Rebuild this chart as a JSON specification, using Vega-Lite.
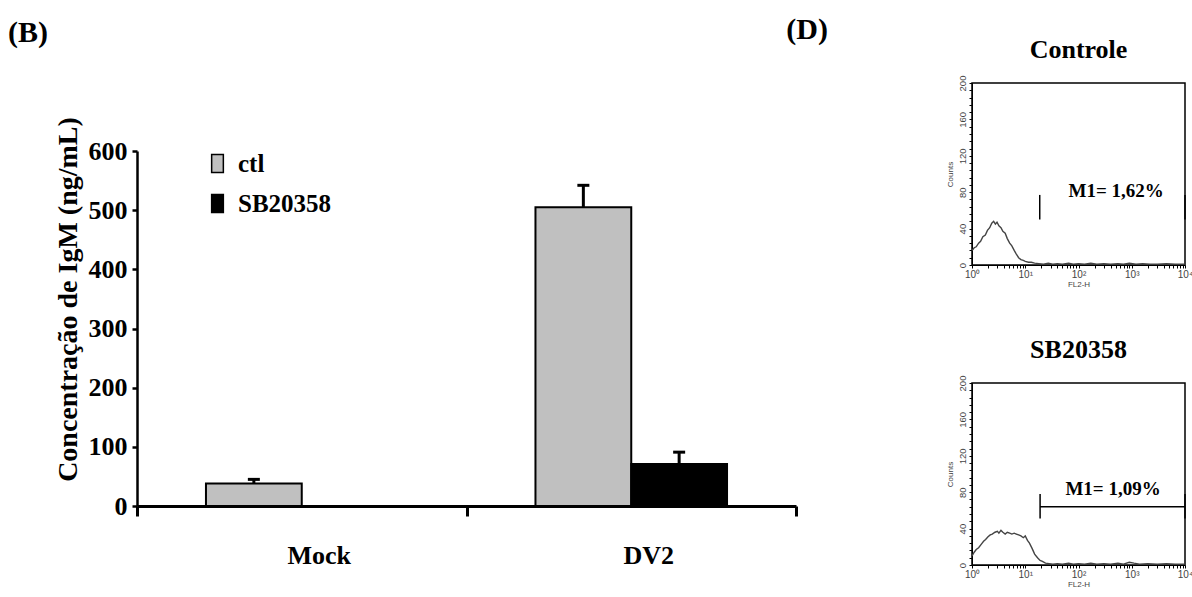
{
  "$schema": "https://vega.github.io/schema/vega-lite/v6.json",
  "padding": {"left": 8, "top": 15, "right": 0, "bottom": 0},
  "background": "white",
  "config": {"font": "Liberation Serif", "view": {"stroke": null}},
  "spacing": -12,
  "hconcat": [
    {
      "width": 659,
      "height": 423,
      "title": {"text": "(B)", "anchor": "start", "frame": "group", "dx": -129, "offset": 35, "fontSize": 30, "font": "Liberation Serif", "fontWeight": "bold", "color": "black"},
      "data": {"values": [
        {"grupo": "Mock", "tratamento": "ctl", "valor": 38, "sup": 45},
        {"grupo": "Mock", "tratamento": "SB20358", "valor": 0, "sup": null},
        {"grupo": "DV2", "tratamento": "ctl", "valor": 505, "sup": 542},
        {"grupo": "DV2", "tratamento": "SB20358", "valor": 71, "sup": 91}
      ]},
      "encoding": {
        "x": {"field": "grupo", "type": "nominal", "sort": ["Mock", "DV2"],
              "scale": {"paddingInner": 0, "paddingOuter": 0},
              "axis": {"title": null, "labelAngle": 0, "tickBand": "extent", "tickSize": 10, "tickWidth": 3, "tickColor": "black", "domainWidth": 3, "domainColor": "black", "labelFont": "Liberation Serif", "labelFontWeight": "bold", "labelFontSize": 26, "labelColor": "black", "labelPadding": 26, "labelOffset": 17}},
        "xOffset": {"field": "tratamento", "type": "nominal", "sort": ["ctl", "SB20358"], "scale": {"paddingInner": 0, "paddingOuter": 0.72}}
      },
      "layer": [
        {
          "mark": {"type": "bar", "stroke": "black", "strokeWidth": 2},
          "encoding": {
            "y": {"field": "valor", "type": "quantitative", "scale": {"domain": [0, 600], "nice": false, "range": [423, 68]},
                  "axis": {"title": "Concentração de IgM (ng/mL)", "values": [0, 100, 200, 300, 400, 500, 600], "grid": false, "tickSize": 5, "tickWidth": 2.5, "tickColor": "black", "domainWidth": 2.5, "domainColor": "black", "labelFont": "Liberation Serif", "labelFontWeight": "bold", "labelFontSize": 26, "labelColor": "black", "labelPadding": 5, "titleFont": "Liberation Serif", "titleFontWeight": "bold", "titleFontSize": 28, "titleColor": "black", "titlePadding": 6, "titleY": 216}},
            "fill": {"field": "tratamento", "type": "nominal", "sort": ["ctl", "SB20358"],
                     "scale": {"domain": ["ctl", "SB20358"], "range": ["#c0c0c0", "#000000"]},
                     "legend": {"title": null, "orient": "none", "legendX": 68, "legendY": 68, "symbolType": "M-0.65,-1H0.65V1H-0.65Z", "symbolSize": 324, "symbolStrokeColor": "black", "symbolStrokeWidth": 1.5, "labelFont": "Liberation Serif", "labelFontWeight": "bold", "labelFontSize": 25, "labelColor": "black", "rowPadding": 14, "labelOffset": 8}}
          }
        },
        {
          "transform": [{"filter": "datum.sup != null"}],
          "mark": {"type": "rule", "strokeWidth": 3, "color": "black"},
          "encoding": {
            "y": {"field": "valor", "type": "quantitative"},
            "y2": {"field": "sup"}
          }
        },
        {
          "transform": [{"filter": "datum.sup != null"}],
          "mark": {"type": "tick", "thickness": 3, "size": 12, "color": "black", "opacity": 1},
          "encoding": {
            "y": {"field": "sup", "type": "quantitative"}
          }
        }
      ]
    },
    {
      "title": {"text": "(D)", "anchor": "start", "frame": "bounds", "dx": -159, "offset": -9, "fontSize": 30, "font": "Liberation Serif", "fontWeight": "bold", "color": "black"},
      "spacing": 47,
      "vconcat": [
        {
          "width": 213,
          "height": 182,
          "view": {"stroke": "black", "strokeWidth": 1.5},
          "title": {"text": "Controle", "fontSize": 26, "font": "Liberation Serif", "fontWeight": "bold", "color": "black", "offset": 12},
          "encoding": {
            "x": {"field": "fl", "type": "quantitative", "scale": {"type": "log", "domain": [1, 10000]},
                  "axis": {"title": "FL2-H", "values": [1,2,3,4,5,6,7,8,9,10,20,30,40,50,60,70,80,90,100,200,300,400,500,600,700,800,900,1000,2000,3000,4000,5000,6000,7000,8000,9000,10000],
                           "labelExpr": "indexof([1,10,100,1000,10000], datum.value) < 0 ? '' : '10' + ['⁰','¹','²','³','⁴'][indexof([1,10,100,1000,10000], datum.value)]",
                           "grid": false, "tickSize": 3, "tickColor": "black", "domainColor": "black", "labelFont": "Liberation Sans", "labelFontSize": 10, "labelColor": "#444", "labelPadding": 1, "labelFlush": false, "labelOverlap": false, "titleFont": "Liberation Sans", "titleFontSize": 8, "titleFontWeight": "normal", "titleColor": "#444", "titlePadding": 1}},
            "y": {"field": "count", "type": "quantitative", "scale": {"domain": [0, 200], "nice": false},
                  "axis": {"title": "Counts", "values": [0,8,16,24,32,40,48,56,64,72,80,88,96,104,112,120,128,136,144,152,160,168,176,184,192,200],
                           "labelExpr": "datum.value % 40 == 0 ? datum.label : ''",
                           "labelAngle": -90, "grid": false, "tickSize": 3, "tickColor": "black", "domainColor": "black", "labelFont": "Liberation Sans", "labelFontSize": 9.5, "labelColor": "#444", "labelPadding": 2, "labelFlush": false, "labelOverlap": false, "titleFont": "Liberation Sans", "titleFontSize": 8, "titleFontWeight": "normal", "titleColor": "#444", "titlePadding": 3}}
          },
          "layer": [
            {
              "data": {"values": [
                {"fl": 1.0, "count": 16}, {"fl": 1.1, "count": 19}, {"fl": 1.2, "count": 20}, {"fl": 1.33, "count": 24},
                {"fl": 1.45, "count": 26}, {"fl": 1.6, "count": 31}, {"fl": 1.78, "count": 33}, {"fl": 1.95, "count": 38},
                {"fl": 2.15, "count": 41}, {"fl": 2.35, "count": 46}, {"fl": 2.55, "count": 48}, {"fl": 2.75, "count": 45},
                {"fl": 2.95, "count": 47}, {"fl": 3.2, "count": 43}, {"fl": 3.5, "count": 41}, {"fl": 3.8, "count": 37},
                {"fl": 4.2, "count": 35}, {"fl": 4.6, "count": 29}, {"fl": 5.1, "count": 24}, {"fl": 5.6, "count": 21},
                {"fl": 6.2, "count": 16}, {"fl": 6.8, "count": 12}, {"fl": 7.5, "count": 8}, {"fl": 8.3, "count": 6},
                {"fl": 9.2, "count": 5}, {"fl": 10, "count": 4}, {"fl": 11.5, "count": 3}, {"fl": 13, "count": 3},
                {"fl": 15, "count": 2}, {"fl": 18, "count": 1.5}, {"fl": 22, "count": 1}, {"fl": 27, "count": 2},
                {"fl": 33, "count": 1}, {"fl": 40, "count": 1.5}, {"fl": 50, "count": 1}, {"fl": 65, "count": 2},
                {"fl": 80, "count": 1}, {"fl": 100, "count": 1.5}, {"fl": 130, "count": 1}, {"fl": 170, "count": 2},
                {"fl": 220, "count": 1}, {"fl": 300, "count": 1.5}, {"fl": 400, "count": 1}, {"fl": 550, "count": 1.5},
                {"fl": 700, "count": 1}, {"fl": 900, "count": 2}, {"fl": 1200, "count": 1}, {"fl": 1600, "count": 1.5},
                {"fl": 2200, "count": 1}, {"fl": 3000, "count": 1}, {"fl": 4500, "count": 1.5}, {"fl": 6500, "count": 1},
                {"fl": 10000, "count": 1}
              ]},
              "mark": {"type": "line", "color": "#444444", "strokeWidth": 1.4}
            },
            {
              "data": {"values": [
                {"fl": 18.7, "count": 50, "count2": 77},
                {"fl": 10000, "count": 50, "count2": 77}
              ]},
              "mark": {"type": "rule", "color": "black", "strokeWidth": 1.5},
              "encoding": {"y2": {"field": "count2"}}
            },
            {
              "data": {"values": [{"fl": 510, "count": 81, "txt": "M1= 1,62%"}]},
              "mark": {"type": "text", "font": "Liberation Serif", "fontWeight": "bold", "fontSize": 19, "color": "black"},
              "encoding": {"text": {"field": "txt"}}
            }
          ]
        },
        {
          "width": 213,
          "height": 182,
          "view": {"stroke": "black", "strokeWidth": 1.5},
          "title": {"text": "SB20358", "fontSize": 26, "font": "Liberation Serif", "fontWeight": "bold", "color": "black", "offset": 12},
          "encoding": {
            "x": {"field": "fl", "type": "quantitative", "scale": {"type": "log", "domain": [1, 10000]},
                  "axis": {"title": "FL2-H", "values": [1,2,3,4,5,6,7,8,9,10,20,30,40,50,60,70,80,90,100,200,300,400,500,600,700,800,900,1000,2000,3000,4000,5000,6000,7000,8000,9000,10000],
                           "labelExpr": "indexof([1,10,100,1000,10000], datum.value) < 0 ? '' : '10' + ['⁰','¹','²','³','⁴'][indexof([1,10,100,1000,10000], datum.value)]",
                           "grid": false, "tickSize": 3, "tickColor": "black", "domainColor": "black", "labelFont": "Liberation Sans", "labelFontSize": 10, "labelColor": "#444", "labelPadding": 1, "labelFlush": false, "labelOverlap": false, "titleFont": "Liberation Sans", "titleFontSize": 8, "titleFontWeight": "normal", "titleColor": "#444", "titlePadding": 1}},
            "y": {"field": "count", "type": "quantitative", "scale": {"domain": [0, 200], "nice": false},
                  "axis": {"title": "Counts", "values": [0,8,16,24,32,40,48,56,64,72,80,88,96,104,112,120,128,136,144,152,160,168,176,184,192,200],
                           "labelExpr": "datum.value % 40 == 0 ? datum.label : ''",
                           "labelAngle": -90, "grid": false, "tickSize": 3, "tickColor": "black", "domainColor": "black", "labelFont": "Liberation Sans", "labelFontSize": 9.5, "labelColor": "#444", "labelPadding": 2, "labelFlush": false, "labelOverlap": false, "titleFont": "Liberation Sans", "titleFontSize": 8, "titleFontWeight": "normal", "titleColor": "#444", "titlePadding": 3}}
          },
          "layer": [
            {
              "data": {"values": [
                {"fl": 1.0, "count": 10}, {"fl": 1.1, "count": 14}, {"fl": 1.2, "count": 17}, {"fl": 1.33, "count": 19},
                {"fl": 1.5, "count": 23}, {"fl": 1.65, "count": 26}, {"fl": 1.8, "count": 28}, {"fl": 2.0, "count": 31},
                {"fl": 2.2, "count": 33}, {"fl": 2.4, "count": 34}, {"fl": 2.7, "count": 36}, {"fl": 3.0, "count": 37},
                {"fl": 3.2, "count": 35}, {"fl": 3.5, "count": 38}, {"fl": 3.8, "count": 36}, {"fl": 4.2, "count": 34},
                {"fl": 4.6, "count": 36}, {"fl": 5.1, "count": 35}, {"fl": 5.6, "count": 34}, {"fl": 6.2, "count": 35},
                {"fl": 6.8, "count": 34}, {"fl": 7.5, "count": 33}, {"fl": 8.3, "count": 32}, {"fl": 9.2, "count": 30},
                {"fl": 10, "count": 32}, {"fl": 11, "count": 27}, {"fl": 12, "count": 24}, {"fl": 13.5, "count": 18},
                {"fl": 15, "count": 12}, {"fl": 17, "count": 8}, {"fl": 19, "count": 5}, {"fl": 21, "count": 4},
                {"fl": 24, "count": 2}, {"fl": 28, "count": 1.5}, {"fl": 33, "count": 1}, {"fl": 40, "count": 1.5},
                {"fl": 50, "count": 1}, {"fl": 65, "count": 2}, {"fl": 80, "count": 1}, {"fl": 100, "count": 1.5},
                {"fl": 130, "count": 1}, {"fl": 170, "count": 2}, {"fl": 220, "count": 1}, {"fl": 300, "count": 1.5},
                {"fl": 400, "count": 1}, {"fl": 550, "count": 2}, {"fl": 700, "count": 1}, {"fl": 900, "count": 3},
                {"fl": 1100, "count": 2}, {"fl": 1400, "count": 1}, {"fl": 2000, "count": 1.5}, {"fl": 3000, "count": 1},
                {"fl": 4500, "count": 1.5}, {"fl": 6500, "count": 1}, {"fl": 10000, "count": 1}
              ]},
              "mark": {"type": "line", "color": "#444444", "strokeWidth": 1.4}
            },
            {
              "data": {"values": [
                {"fl": 19, "count": 51, "count2": 78},
                {"fl": 10000, "count": 51, "count2": 78}
              ]},
              "mark": {"type": "rule", "color": "black", "strokeWidth": 1.5},
              "encoding": {"y2": {"field": "count2"}}
            },
            {
              "data": {"values": [{"fl": 19, "fl2": 10000, "count": 64}]},
              "mark": {"type": "rule", "color": "black", "strokeWidth": 1.5},
              "encoding": {"x2": {"field": "fl2"}}
            },
            {
              "data": {"values": [{"fl": 445, "count": 83, "txt": "M1= 1,09%"}]},
              "mark": {"type": "text", "font": "Liberation Serif", "fontWeight": "bold", "fontSize": 19, "color": "black"},
              "encoding": {"text": {"field": "txt"}}
            }
          ]
        }
      ]
    }
  ]
}
